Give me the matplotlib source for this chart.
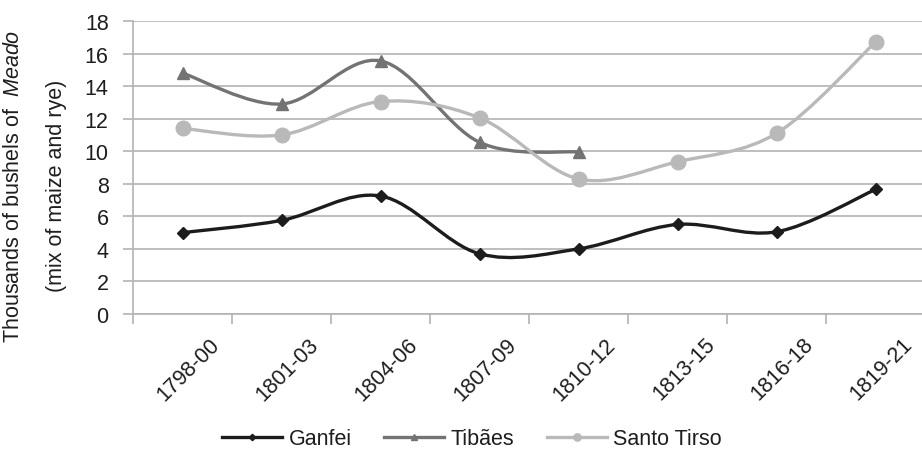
import numpy as np
import matplotlib
matplotlib.use("Agg")
import matplotlib.pyplot as plt
from matplotlib.path import Path
from matplotlib.patches import PathPatch
from matplotlib.lines import Line2D
import matplotlib.transforms as mtransforms

plt.rcParams['font.family'] = ['Liberation Sans', 'DejaVu Sans']
plt.rcParams['mathtext.fontset'] = 'custom'
plt.rcParams['mathtext.rm'] = 'Liberation Sans'
plt.rcParams['mathtext.it'] = 'Liberation Sans:italic'

periods = ['1798-00', '1801-03', '1804-06', '1807-09', '1810-12',
           '1813-15', '1816-18', '1819-21']
ganfei = [5.0, 5.75, 7.25, 3.7, 4.0, 5.5, 5.05, 7.65]
tibaes = [14.8, 12.9, 15.55, 10.55, 9.95]
santo_tirso = [11.4, 11.0, 13.05, 12.05, 8.3, 9.35, 11.1, 16.7]

series = [
    ('Ganfei', ganfei, '#1c1c1c', 'D', 6.5),
    ('Tibães', tibaes, '#737373', '^', 8.5),
    ('Santo Tirso', santo_tirso, '#b9b9b9', 'o', 10.5),
]

text_col = '#1e1e1e'
grid_col = '#b3b3b3'
fs = 15.5


def smooth_path(xs, ys):
    # excel-style smoothed line: cubic bezier segments with catmull-rom tangents
    pts = np.column_stack([xs, ys]).astype(float)
    n = len(pts)
    verts = [pts[0]]
    codes = [Path.MOVETO]
    for i in range(n - 1):
        p0 = pts[i - 1] if i > 0 else pts[i]
        p1 = pts[i]
        p2 = pts[i + 1]
        p3 = pts[i + 2] if i + 2 < n else pts[i + 1]
        c1 = p1 + (p2 - p0) / 6.0
        c2 = p2 - (p3 - p1) / 6.0
        verts += [c1, c2, p2]
        codes += [Path.CURVE4] * 3
    return Path(verts, codes)


fig = plt.figure(figsize=(9.22, 4.6), dpi=100)
ax = fig.add_axes([133 / 922, 1 - 315 / 460, (925 - 133) / 922, (315 - 22) / 460])

ax.set_xlim(0, len(periods))
ax.set_ylim(0, 18)
ax.set_yticks(np.arange(0, 19, 2))
ax.grid(axis='y', color=grid_col, linewidth=1.2)
ax.set_axisbelow(True)

for side in ['top', 'right']:
    ax.spines[side].set_visible(False)
for side in ['left', 'bottom']:
    ax.spines[side].set_color(grid_col)
    ax.spines[side].set_linewidth(1.2)

ax.tick_params(axis='y', length=7.5, width=1.2, color=grid_col, pad=10,
               labelsize=fs, labelcolor=text_col)

# category boundaries carry the tick marks, centres carry the labels
ax.set_xticks(np.arange(0, len(periods) + 1))
ax.set_xticklabels([])
ax.set_xticks(np.arange(len(periods)) + 0.5, minor=True)
ax.set_xticklabels(periods, minor=True, rotation=45, ha='right', va='center',
                   rotation_mode='anchor', fontsize=fs, color=text_col)
ax.tick_params(axis='x', which='major', length=7, width=1.2, color=grid_col)
ax.tick_params(axis='x', which='minor', length=0, pad=0)
shift = mtransforms.ScaledTranslation(0.34, -0.27, fig.dpi_scale_trans)
for lbl in ax.get_xticklabels(minor=True):
    lbl.set_transform(lbl.get_transform() + shift)

handles = []
for z, (name, vals, col, mk, ms) in enumerate(series):
    xs = np.arange(len(vals)) + 0.5
    patch = PathPatch(smooth_path(xs, vals), fill=False, edgecolor=col,
                      linewidth=2.4, zorder=3 + z, capstyle='round',
                      joinstyle='round')
    ax.add_patch(patch)
    ax.plot(xs, vals, linestyle='none', marker=mk, markersize=ms, color=col,
            markeredgecolor=col, zorder=3 + z, clip_on=False)
    handles.append(Line2D([], [], color=col, linewidth=2.4, marker=mk,
                          markersize=ms * 0.5, label=name))

fig.legend(handles=handles, loc='center', ncol=3, frameon=False,
           bbox_to_anchor=(472 / 922, 1 - 440 / 460), fontsize=fs,
           handlelength=2.8, handletextpad=0.3, columnspacing=1.5,
           labelcolor=text_col)

fig.text(35 / 922, 1 - 186 / 460,
         'Thousands of bushels of  $\\mathit{Meado}$\n(mix of maize and rye)',
         rotation=90, ha='center', va='center', fontsize=fs, color=text_col,
         linespacing=2.35, multialignment='center')

fig.savefig('out.png', dpi=100)
